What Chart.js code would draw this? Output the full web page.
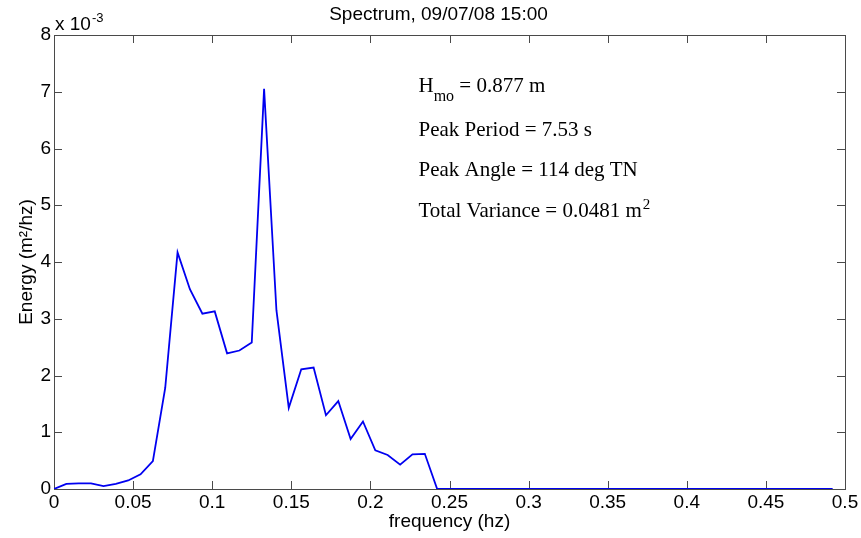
<!DOCTYPE html>
<html>
<head>
<meta charset="utf-8">
<script src="https://cdn.jsdelivr.net/npm/chart.js@4/dist/chart.umd.min.js"></script>
<style>
  html, body { margin:0; padding:0; background:#fff; }
  #wrap { width:861px; height:538px; position:relative; }
</style>
</head>
<body>
<div id="wrap"><canvas id="spec"></canvas></div>
<script>
// Spectre de houle, 09/07/08 15:00 (energie en 1e-3 m2/hz)
const freqHz = [
  0, 0.0078, 0.0156, 0.0234, 0.0313, 0.0391, 0.0469, 0.0547,
  0.0625, 0.0703, 0.0781, 0.0859, 0.0938, 0.1016, 0.1094, 0.1172,
  0.125, 0.1328, 0.1406, 0.1484, 0.1563, 0.1641, 0.1719, 0.1797,
  0.1875, 0.1953, 0.2031, 0.2109, 0.2188, 0.2266, 0.2344, 0.2422,
  0.25, 0.2578, 0.2656, 0.2734, 0.2813, 0.2891, 0.2969, 0.3047,
  0.3125, 0.3203, 0.3281, 0.3359, 0.3438, 0.3516, 0.3594, 0.3672,
  0.375, 0.3828, 0.3906, 0.3984, 0.4063, 0.4141, 0.4219, 0.4297,
  0.4375, 0.4453, 0.4531, 0.4609, 0.4688, 0.4766, 0.4844, 0.4922
];
const energyE3 = [
  0, 0.09, 0.10, 0.10, 0.05, 0.09, 0.15, 0.26,
  0.49, 1.78, 4.17, 3.52, 3.09, 3.13, 2.39, 2.44,
  2.58, 7.05, 3.15, 1.43, 2.11, 2.14, 1.30, 1.55,
  0.88, 1.19, 0.68, 0.60, 0.43, 0.61, 0.62, 0,
  0, 0, 0, 0, 0, 0, 0, 0,
  0, 0, 0, 0, 0, 0, 0, 0,
  0, 0, 0, 0, 0, 0, 0, 0,
  0, 0, 0, 0, 0, 0, 0, 0
];
const xTickValues = [0, 0.05, 0.1, 0.15, 0.2, 0.25, 0.3, 0.35, 0.4, 0.45, 0.5];
const yTickValues = [0, 1, 2, 3, 4, 5, 6, 7, 8];

const titleText = 'Spectrum, 09/07/08 15:00';
// lignes d'annotation : [texte, indice, suite, exposant]
const notes = [
  ['H', 'mo', ' = 0.877 m', ''],
  ['Peak Period = 7.53 s', '', '', ''],
  ['Peak Angle = 114 deg TN', '', '', ''],
  ['Total Variance = 0.0481 m', '', '', '2']
];

const SANS = '"Liberation Sans", Arial, sans-serif';
const SERIF = '"Liberation Serif", "Times New Roman", serif';
const AXIS_COL = '#4a4a4a';

function fmtTick(v) { return String(Number(v.toFixed(2))); }

// cadre MATLAB, graduations vers l'interieur, titre, multiplicateur et textes
const matlabDecor = {
  id: 'matlabDecor',
  beforeDatasetsDraw: function(chart) {
    const ctx = chart.ctx, a = chart.chartArea;
    const xs = chart.scales.x, ys = chart.scales.y;
    const tk = 8;
    ctx.save();
    ctx.strokeStyle = AXIS_COL;
    ctx.lineWidth = 1;
    ctx.strokeRect(Math.round(a.left) + 0.5, Math.round(a.top) + 0.5,
      Math.round(a.right - a.left), Math.round(a.bottom - a.top));
    ctx.beginPath();
    xs.ticks.forEach(function(t) {
      const px = Math.round(xs.getPixelForValue(t.value)) + 0.5;
      ctx.moveTo(px, a.bottom); ctx.lineTo(px, a.bottom - tk);
      ctx.moveTo(px, a.top); ctx.lineTo(px, a.top + tk);
    });
    ys.ticks.forEach(function(t) {
      const py = Math.round(ys.getPixelForValue(t.value)) + 0.5;
      ctx.moveTo(a.left, py); ctx.lineTo(a.left + tk, py);
      ctx.moveTo(a.right, py); ctx.lineTo(a.right - tk, py);
    });
    ctx.stroke();
    ctx.restore();
  },
  afterDraw: function(chart) {
    const ctx = chart.ctx, a = chart.chartArea;
    const xs = chart.scales.x, ys = chart.scales.y;
    ctx.save();
    ctx.fillStyle = '#000';
    ctx.textBaseline = 'alphabetic';

    // titre
    ctx.font = '19px ' + SANS;
    ctx.textAlign = 'center';
    ctx.fillText(titleText, (a.left + a.right) / 2 - 11, 20);

    // x 10^-3
    ctx.textAlign = 'left';
    ctx.font = '19px ' + SANS;
    ctx.fillText('x 10', a.left + 1, a.top - 5);
    const w10 = ctx.measureText('x 10').width;
    ctx.font = '13px ' + SANS;
    ctx.fillText('-3', a.left + 2 + w10, a.top - 13);

    // annotations (Times)
    const x0 = xs.getPixelForValue(0.2304);
    const baseVals = [7.0, 6.22, 5.51, 4.8];
    notes.forEach(function(n, i) {
      const y = ys.getPixelForValue(baseVals[i]);
      let x = x0;
      ctx.font = '21px ' + SERIF;
      ctx.fillText(n[0], x, y);
      x += ctx.measureText(n[0]).width;
      if (n[1]) {
        ctx.font = '16px ' + SERIF;
        ctx.fillText(n[1], x, y + 9);
        x += ctx.measureText(n[1]).width;
      }
      if (n[2]) {
        ctx.font = '21px ' + SERIF;
        ctx.fillText(n[2], x, y);
        x += ctx.measureText(n[2]).width;
      }
      if (n[3]) {
        ctx.font = '15px ' + SERIF;
        ctx.fillText(n[3], x + 1, y - 8);
      }
    });
    ctx.restore();
  }
};

new Chart(document.getElementById('spec').getContext('2d'), {
  type: 'line',
  data: {
    datasets: [{
      label: 'Energy',
      data: freqHz.map(function(f, i) { return { x: f, y: energyE3[i] }; }),
      borderColor: '#0000f0',
      borderWidth: 1.8,
      pointRadius: 0,
      tension: 0,
      fill: false
    }]
  },
  options: {
    responsive: true, maintainAspectRatio: false, animation: false,
    layout: { padding: { top: 35, right: 16, left: 0, bottom: 0 } },
    plugins: { legend: { display: false }, tooltip: { enabled: false }, title: { display: false } },
    scales: {
      x: {
        type: 'linear', min: 0, max: 0.5,
        afterBuildTicks: function(s) { s.ticks = xTickValues.map(function(v) { return { value: v }; }); },
        afterFit: function(s) { s.height = 49; },
        grid: { display: false, drawTicks: false },
        border: { display: false },
        ticks: { color: '#000', padding: 2, maxRotation: 0, autoSkip: false,
          font: { family: SANS, size: 19 }, callback: fmtTick },
        title: { display: true, text: 'frequency (hz)', color: '#000',
          font: { family: SANS, size: 19 }, padding: { top: 0, bottom: 5 } }
      },
      y: {
        type: 'linear', min: 0, max: 8,
        afterBuildTicks: function(s) { s.ticks = yTickValues.map(function(v) { return { value: v }; }); },
        afterFit: function(s) { s.width = 54; },
        grid: { display: false, drawTicks: false },
        border: { display: false },
        ticks: { color: '#000', padding: 3, autoSkip: false,
          font: { family: SANS, size: 19 }, callback: function(v) { return String(v); } },
        title: { display: true, text: 'Energy (m²/hz)', color: '#000',
          font: { family: SANS, size: 19 }, padding: { top: 15, bottom: 0 } }
      }
    }
  },
  plugins: [matlabDecor]
});
</script>
</body>
</html>
